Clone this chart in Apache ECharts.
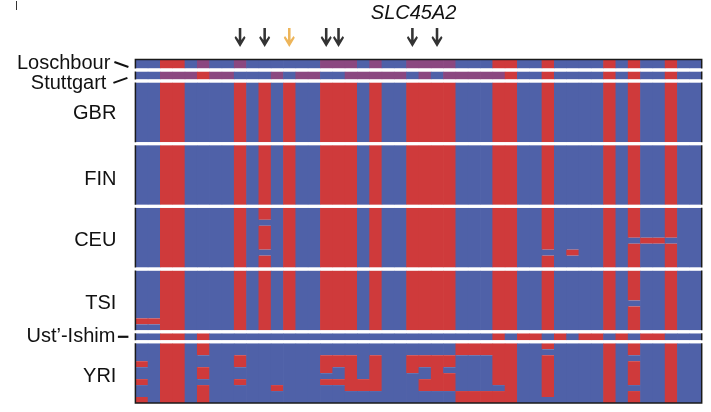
<!DOCTYPE html>
<html>
<head>
<meta charset="utf-8">
<title>SLC45A2 haplotypes</title>
<script src="https://cdn.jsdelivr.net/npm/echarts@6/dist/echarts.min.js"></script>
<style>
  html, body { margin: 0; padding: 0; background: #fff; }
  #chart { width: 711px; height: 412px; }
</style>
</head>
<body>
<div id="chart"></div>
<script>
// Haplotypes across the SLC45A2 region, one character per SNP:
// 0 = ancestral allele, 1 = derived allele, h = ambiguous call
const snpCount = 46;

const loschbour = [
  '00110h00h000000hhh0h00hhhh00011001000010100100'
];
const stuttgart = [
  '00hhh1hh000h0hh00hhhhh0h0hhhhh1001000010100100'
];
const gbr = [
  '0011000010101001110100111100011001000010100100',
  '0011000010101001110100111100011001000010100100',
  '0011000010101001110100111100011001000010100100',
  '0011000010101001110100111100011001000010100100',
  '0011000010101001110100111100011001000010100100',
  '0011000010101001110100111100011001000010100100',
  '0011000010101001110100111100011001000010100100',
  '0011000010101001110100111100011001000010100100',
  '0011000010101001110100111100011001000010100100',
  '0011000010101001110100111100011001000010100100'
];
const fin = [
  '0011000010101001110100111100011001000010100100',
  '0011000010101001110100111100011001000010100100',
  '0011000010101001110100111100011001000010100100',
  '0011000010101001110100111100011001000010100100',
  '0011000010101001110100111100011001000010100100',
  '0011000010101001110100111100011001000010100100',
  '0011000010101001110100111100011001000010100100',
  '0011000010101001110100111100011001000010100100',
  '0011000010101001110100111100011001000010100100',
  '0011000010101001110100111100011001000010100100'
];
const ceu = [
  '0011000010101001110100111100011001000010100100',
  '0011000010101001110100111100011001000010100100',
  '0011000010001001110100111100011001000010100100',
  '0011000010101001110100111100011001000010100100',
  '0011000010101001110100111100011001000010100100',
  '0011000010101001110100111100011001000010011000',
  '0011000010101001110100111100011001000010100100',
  '0011000010001001110100111100011000010010100100',
  '0011000010101001110100111100011001000010100100',
  '0011000010101001110100111100011001000010100100'
];
const tsi = [
  '0011000010101001110100111100011001000010100100',
  '0011000010101001110100111100011001000010100100',
  '0011000010101001110100111100011001000010100100',
  '0011000010101001110100111100011001000010100100',
  '0011000010101001110100111100011001000010100100',
  '0011000010101001110100111100011001000010000100',
  '0011000010101001110100111100011001000010100100',
  '0011000010101001110100111100011001000010100100',
  '1111000010101001110100111100011001000010100100',
  '0011000010101001110100111100011001000010100100'
];
const ustIshim = [
  '0011010000000000000000000000010110101101011000'
];
const yri = [
  '0011010000000000000000000011111001000010100100',
  '0011010000000000000000000011111000000010100100',
  '0011000010000001110100111100011001000010000100',
  '1011000010000001110100111100011001000010100100',
  '0011010000000001010100101000011001000010100100',
  '0011010000000000010100001100011001000010100100',
  '1011000010000001111100011100011001000010100100',
  '0011010000010000011100011100001001000010000100',
  '0011010000000000000000000011111001000010100100',
  '1011010000000000000000000011111000000010100100'
];

const groupNames = ['Loschbour', 'Stuttgart', 'GBR', 'FIN', 'CEU', 'TSI', "Ust'-Ishim", 'YRI'];
const groupRows = [loschbour, stuttgart, gbr, fin, ceu, tsi, ustIshim, yri];

// SNPs flagged above the matrix
const markedSnps = [8, 10, 15, 16, 22, 24];
const highlightedSnps = [12];
const geneName = 'SLC45A2';

// ---- layout (vertical axis units, roughly one pixel each) ----
const rowSpan = { Loschbour: 9, Stuttgart: 8, "Ust'-Ishim": 7 };
const defaultRowSpan = 6;
const gapSpan = 3;

const cellColor = { '0': '#4f61a8', '1': '#cf3a3b', 'h': '#8b4880' };

// Consecutive rows sharing an allele are drawn as one segment per SNP column
const segments = [];
const groupBands = [];
const gaps = [];
let cursor = 0;
groupNames.forEach((name, g) => {
  const rows = groupRows[g];
  const span = rowSpan[name] || defaultRowSpan;
  const start = cursor;
  const rowTop = rows.map((_, r) => start + r * span);
  for (let c = 0; c < snpCount; c++) {
    let r = 0;
    while (r < rows.length) {
      const code = rows[r][c];
      let r2 = r;
      while (r2 + 1 < rows.length && rows[r2 + 1][c] === code) r2++;
      segments.push([c, rowTop[r], rowTop[r2] + span, code, c < snpCount - 1 ? 1 : 0]);
      r = r2 + 1;
    }
  }
  cursor = start + rows.length * span;
  groupBands.push([g, start, cursor]);
  if (g < groupNames.length - 1) {
    gaps.push([cursor, cursor + gapSpan]);
    cursor += gapSpan;
  }
});
const totalSpan = cursor;

const arrowPath = 'path://M4.6,0 L7.4,0 L7.4,12 L10.6,8 L12,9.6 L6,19 L0,9.6 L1.4,8 L4.6,12 Z';
const arrowData = markedSnps.map(c => ({ value: [c + 0.5, -22], itemStyle: { color: '#000' } }))
  .concat(highlightedSnps.map(c => ({ value: [c + 0.5, -22], itemStyle: { color: '#e9a231' } })));

const labelFont = '20px "Liberation Sans", Arial, sans-serif';

const chart = echarts.init(document.getElementById('chart'));
chart.setOption({
  animation: false,
  backgroundColor: '#ffffff',
  grid: {
    left: 135.4, right: 9.3, top: 59.5, bottom: 9,
    show: true, borderColor: '#1a1a1a', borderWidth: 1.5, backgroundColor: 'transparent', z: 10
  },
  xAxis: { type: 'value', min: 0, max: snpCount, show: false },
  yAxis: { type: 'value', min: 0, max: totalSpan, inverse: true, show: false },
  graphic: [
    { type: 'line', shape: { x1: 16.5, y1: 1, x2: 16.5, y2: 10 }, style: { stroke: '#333', lineWidth: 1 } }
  ],
  series: [
    {
      type: 'custom',
      name: 'haplotypes',
      data: segments,
      renderItem(params, api) {
        const seg = segments[params.dataIndex];
        const p0 = api.coord([seg[0], seg[1]]);
        const p1 = api.coord([seg[0] + 1, seg[2]]);
        const padX = seg[4] ? 0.7 : 0;
        return {
          type: 'rect',
          shape: { x: p0[0], y: p0[1], width: p1[0] - p0[0] + padX, height: p1[1] - p0[1] },
          style: { fill: cellColor[seg[3]] }
        };
      }
    },
    {
      // white separators between sample groups, cutting through the frame
      type: 'custom',
      name: 'separators',
      clip: false,
      z: 12,
      data: gaps,
      renderItem(params, api) {
        const p0 = api.coord([-0.12, api.value(0)]);
        const p1 = api.coord([snpCount + 0.12, api.value(1)]);
        return {
          type: 'rect',
          shape: { x: p0[0], y: p0[1], width: p1[0] - p0[0], height: p1[1] - p0[1] },
          style: { fill: '#ffffff' }
        };
      }
    },
    {
      type: 'scatter',
      name: 'marked SNPs',
      clip: false,
      symbol: arrowPath,
      symbolSize: [11, 19],
      data: arrowData,
      z: 5
    },
    {
      type: 'custom',
      name: 'labels',
      clip: false,
      data: groupBands,
      renderItem(params, api) {
        const g = api.value(0);
        const name = groupNames[g];
        const mid = (api.value(1) + api.value(2)) / 2;
        const left = api.coord([0, mid]);
        const children = [];
        if (name === 'Loschbour') {
          children.push({ type: 'text', style: { text: name, x: left[0] - 25, y: left[1] - 0.5, align: 'right', verticalAlign: 'middle', font: labelFont, fill: '#111' } });
          children.push({ type: 'line', shape: { x1: left[0] - 21, y1: left[1] - 2, x2: left[0] - 7, y2: left[1] + 3 }, style: { stroke: '#111', lineWidth: 2 } });
        } else if (name === 'Stuttgart') {
          children.push({ type: 'text', style: { text: name, x: left[0] - 29, y: left[1] + 8.5, align: 'right', verticalAlign: 'middle', font: labelFont, fill: '#111' } });
          children.push({ type: 'line', shape: { x1: left[0] - 22, y1: left[1] + 7.5, x2: left[0] - 8, y2: left[1] + 2.5 }, style: { stroke: '#111', lineWidth: 2 } });
        } else if (name === "Ust'-Ishim") {
          children.push({ type: 'text', style: { text: "Ust\u2019-Ishim", x: left[0] - 20, y: left[1], align: 'right', verticalAlign: 'middle', font: labelFont, fill: '#111' } });
          children.push({ type: 'line', shape: { x1: left[0] - 17.5, y1: left[1], x2: left[0] - 7, y2: left[1] }, style: { stroke: '#111', lineWidth: 2.2 } });
        } else {
          const nudge = name === 'FIN' ? 4.5 : name === 'GBR' ? 1.5 : 3;
          children.push({ type: 'text', style: { text: name, x: left[0] - 19, y: left[1] + nudge, align: 'right', verticalAlign: 'middle', font: labelFont, fill: '#111' } });
        }
        if (g === 0) {
          const top = api.coord([22.6, -46]);
          children.push({ type: 'text', style: { text: geneName, x: top[0], y: top[1], align: 'center', verticalAlign: 'middle', font: 'italic 20px "Liberation Sans", Arial, sans-serif', fill: '#111' } });
        }
        return { type: 'group', children };
      }
    }
  ]
});
</script>
</body>
</html>
